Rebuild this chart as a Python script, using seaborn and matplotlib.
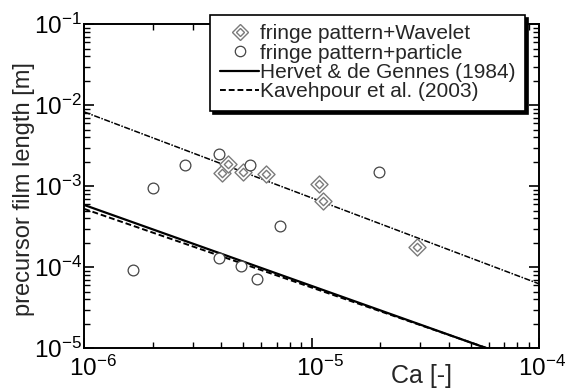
import numpy as np
import pandas as pd
import matplotlib
matplotlib.use("Agg")
import matplotlib.pyplot as plt
import matplotlib.transforms as mtransforms
import seaborn as sns
from matplotlib.lines import Line2D
from matplotlib.legend_handler import HandlerTuple
from matplotlib.ticker import LogLocator, NullFormatter

# fringe pattern + wavelet (diamonds)
wavelet_ca = [4.04e-6, 4.30e-6, 5.00e-6, 6.27e-6, 1.075e-5, 1.12e-5, 2.89e-5]
wavelet_len = [1.45e-3, 1.89e-3, 1.49e-3, 1.41e-3, 1.06e-3, 6.6e-4, 1.80e-4]

# fringe pattern + particle (circles)
particle_ca = [1.63e-6, 2.00e-6, 2.78e-6, 3.92e-6, 3.91e-6, 4.87e-6, 5.35e-6, 5.76e-6, 7.25e-6, 1.98e-5]
particle_len = [9.3e-5, 9.6e-4, 1.85e-3, 2.51e-3, 1.31e-4, 1.04e-4, 1.83e-3, 7.1e-5, 3.2e-4, 1.49e-3]

# model lines, sampled at the ends of the Ca range
line_ca = [1e-6, 1e-4]
hervet_len = [5.87e-4, 5.87e-6]
kaveh_len = [5.25e-4, 6.0e-6]
fit_len = [8.26e-3, 6.22e-5]

# decade ticks
x_exp = [-6, -5, -4]
y_exp = [-5, -4, -3, -2, -1]

sns.set_theme(style="ticks")
plt.rcParams["font.family"] = ["Liberation Sans", "DejaVu Sans"]
plt.rcParams["mathtext.default"] = "regular"
plt.rcParams["axes.unicode_minus"] = False

wav = pd.DataFrame({"ca": wavelet_ca, "len": wavelet_len})
par = pd.DataFrame({"ca": particle_ca, "len": particle_len})
lines = pd.DataFrame({"ca": line_ca, "hervet": hervet_len, "kaveh": kaveh_len, "fit": fit_len})

fig = plt.figure(figsize=(5.69, 3.90), dpi=100)
ax = fig.add_axes([0.148, 0.107, 0.800, 0.831])
ax.set_xscale("log")
ax.set_yscale("log")

sns.lineplot(data=lines, x="ca", y="fit", ax=ax, color="black", lw=1.1,
             linestyle=(0, (4, 1, 1, 1)), legend=False)
sns.lineplot(data=lines, x="ca", y="hervet", ax=ax, color="black", lw=1.6, legend=False)
sns.lineplot(data=lines, x="ca", y="kaveh", ax=ax, color="black", lw=1.4,
             linestyle=(0, (3, 1.5)), legend=False)

gray = "#7a7a7a"
sns.scatterplot(data=wav, x="ca", y="len", ax=ax, marker="D", s=75,
                facecolor="white", edgecolor=gray, linewidth=1.0, zorder=3, legend=False)
sns.scatterplot(data=wav, x="ca", y="len", ax=ax, marker="D", s=18,
                facecolor="white", edgecolor=gray, linewidth=1.0, zorder=4, legend=False)
sns.scatterplot(data=par, x="ca", y="len", ax=ax, marker="o", s=60,
                facecolor="white", edgecolor="#444444", linewidth=0.9, zorder=3, legend=False)

for sp in ax.spines.values():
    sp.set_linewidth(1.4)
    sp.set_color("black")
ax.tick_params(which="both", direction="in", top=True, right=True, colors="black")
ax.tick_params(which="major", length=7, width=1.2, labelsize=17.5)
ax.tick_params(axis="x", which="major", pad=5)
ax.tick_params(axis="y", which="major", pad=1.5)
ax.tick_params(which="minor", length=4, width=1.0)
ax.set_xticks([10.0 ** e for e in x_exp], [f"10$^{{{e}}}$" for e in x_exp])
ax.set_yticks([10.0 ** e for e in y_exp], [f"10$^{{{e}}}$" for e in y_exp])
ax.xaxis.set_minor_locator(LogLocator(base=10, subs=np.arange(2, 10), numticks=20))
ax.yaxis.set_minor_locator(LogLocator(base=10, subs=np.arange(2, 10), numticks=20))
ax.xaxis.set_minor_formatter(NullFormatter())
ax.yaxis.set_minor_formatter(NullFormatter())
ax.set_xlim(1e-6, 1e-4)
ax.set_ylim(1e-5, 1e-1)

# the "10" sits on the tick, exponent hangs to the right (last one kept inside the figure)
xlabs = ax.get_xticklabels()
for i, lab in enumerate(xlabs):
    dx = 2 if i == len(xlabs) - 1 else 6
    lab.set_transform(lab.get_transform() +
                      mtransforms.ScaledTranslation(dx / 72, 0, fig.dpi_scale_trans))

ax.set_xlabel("Ca [-]", fontsize=18)
ax.xaxis.set_label_coords(0.742, -0.05)
ax.set_ylabel("precursor film length [m]", fontsize=17)
ax.yaxis.set_label_coords(-0.108, 0.49)

h_wav = (Line2D([], [], ls="none", marker="D", ms=8.5, mfc="white", mec=gray, mew=1.0),
         Line2D([], [], ls="none", marker="D", ms=4, mfc="white", mec=gray, mew=1.0))
h_par = Line2D([], [], ls="none", marker="o", ms=7.5, mfc="white", mec="#444444", mew=0.9)
h_her = Line2D([], [], color="black", lw=1.6)
h_kav = Line2D([], [], color="black", lw=1.4, linestyle=(0, (3, 1.5)))
leg = ax.legend([h_wav, h_par, h_her, h_kav],
                ["fringe pattern+Wavelet", "fringe pattern+particle",
                 "Hervet & de Gennes (1984)", "Kavehpour et al. (2003)"],
                handler_map={tuple: HandlerTuple(ndivide=1, pad=0)},
                loc="upper right", bbox_to_anchor=(0.969, 1.029), borderaxespad=0,
                fontsize=15, frameon=True, fancybox=False, framealpha=1,
                edgecolor="black", shadow={"color": "black", "alpha": 1},
                handlelength=1.9, handletextpad=0.05, labelspacing=0.02,
                borderpad=0.45)
leg.get_frame().set_linewidth(1.2)
leg.set_zorder(10)

fig.savefig("out.png", dpi=100)
